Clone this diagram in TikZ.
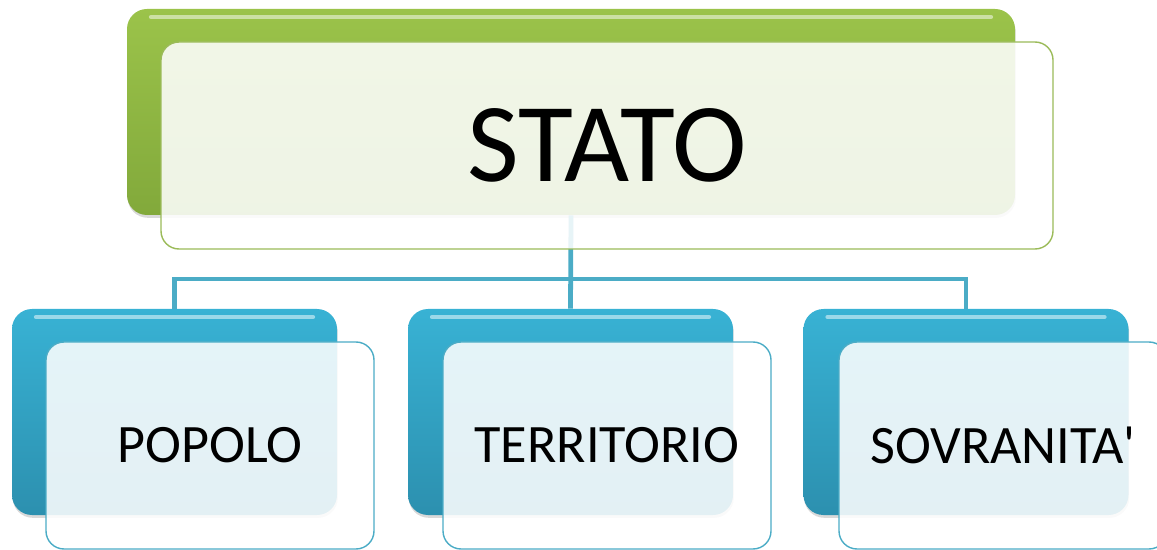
\documentclass[tikz,border=0pt]{standalone}
\usepackage{fontspec}
\setmainfont{Carlito}
\usepackage{xcolor}
\usepackage{tikz}
\usetikzlibrary{shapes, positioning, calc, shadows}

\definecolor{verde}{HTML}{9BC34A}
\definecolor{verdescuro}{HTML}{82A93B}
\definecolor{bordoverde}{HTML}{9BBB59}
\definecolor{azzurro}{HTML}{38B2D4}
\definecolor{azzurroscuro}{HTML}{2C90AF}
\definecolor{bordoazzurro}{HTML}{4BACC6}

\tikzset{
  retro/.style={rectangle, rounded corners=0.5cm, inner sep=0pt,
    drop shadow={shadow xshift=0.5pt, shadow yshift=-2pt, opacity=0.3},
    path picture={\draw[white, opacity=0.5, line width=3pt, line cap=round]
      ([xshift=0.6cm, yshift=-0.2cm]path picture bounding box.north west) --
      ([xshift=-0.6cm, yshift=-0.2cm]path picture bounding box.north east);}},
  retroverde/.style={retro, top color=verde, middle color=verde, bottom color=verdescuro,
    minimum width=22.2cm, minimum height=5.15cm},
  retroblu/.style={retro, top color=azzurro, middle color=azzurro, bottom color=azzurroscuro,
    minimum width=8.125cm, minimum height=5.15cm},
  fronte/.style={rectangle, rounded corners=0.45cm, inner sep=0pt,
    fill=white, fill opacity=0.87, text opacity=1, line width=1pt},
  fronteverde/.style={fronte, draw=bordoverde, minimum width=22.3cm,
    minimum height=5.175cm, font=\fontsize{80}{96}\selectfont},
  fronteblu/.style={fronte, draw=bordoazzurro, minimum width=8.2cm,
    minimum height=5.175cm, font=\fontsize{38.5}{46}\selectfont},
  linea/.style={draw=bordoazzurro, line width=3.4pt}
}

\begin{document}
\begin{tikzpicture}
\useasboundingbox (0,0) rectangle (28.925,-13.75);

% back boxes
\node (statoback) [retroverde] at (14.275,-2.8) {};
\node (popoloback) [retroblu] at (4.3625,-10.3) {};
\node (territorioback) [retroblu] at (14.2625,-10.3) {};
\node (sovranitaback) [retroblu] at (24.15,-10.3) {};

% connectors
\coordinate (bus) at (statoback.south |- 0,-6.975);
\draw [linea] (statoback.south) -- (territorioback.north);
\draw [linea] (popoloback.north) |- (bus) -| (sovranitaback.north);

% front boxes
\node (stato) [fronteverde] at (15.175,-3.6375) {STATO};
\node (popolo) [fronteblu] at (5.25,-11.1375) {POPOLO};
\node (territorio) [fronteblu] at (15.175,-11.1375) {TERRITORIO};
\node (sovranita) [fronteblu] at (25.075,-11.1375) {SOVRANITA\textquotesingle};
\end{tikzpicture}
\end{document}
